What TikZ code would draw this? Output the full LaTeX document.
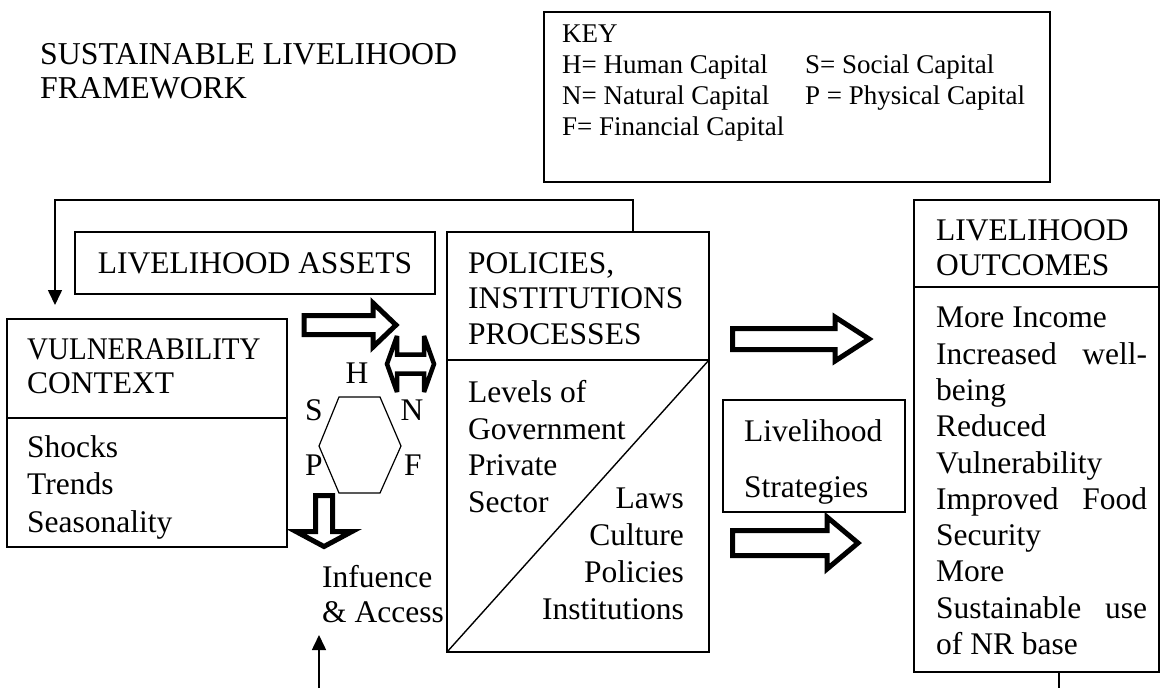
\documentclass[tikz,border=0pt]{standalone}
\usepackage{fontspec}
\usepackage{graphicx}
\setmainfont{Liberation Serif}
\usetikzlibrary{arrows.meta}
\usetikzlibrary{positioning}
\tikzset{box/.style = {draw, line width=1.6pt, inner sep=0, outer sep=0}}
\tikzset{txt/.style = {inner sep=0, anchor=north west, align=left}}
\tikzset{hollow/.style = {line width=5pt, fill=white, line join=miter}}
\tikzset{fb/.style = {line width=1.6pt, -{Triangle[length=15pt,width=14pt]}}}
% tail point, angle, length, shaft half, head half, head length
\newcommand{\fatarrow}[6]{\draw[hollow, shift={#1}, rotate=#2] (0,#4) -- ({#3-#6},#4) -- ({#3-#6},#5) -- (#3,0) -- ({#3-#6},-#5) -- ({#3-#6},-#4) -- (0,-#4) -- cycle;}

\begin{document}
\begin{tikzpicture}[x=1pt, y=-1pt, inner sep=0, font=\fontsize{31.5}{36.5}\selectfont]
    \useasboundingbox (0,0) rectangle (1161,688);

    % title and key
    \node[txt, font=\fontsize{31.8}{34}\selectfont] (title) at (40,43) {SUSTAINABLE LIVELIHOOD\\FRAMEWORK};
    \node[box, anchor=north west, minimum width=506pt, minimum height=170pt] (key) at (544,12) {};
    \node[txt, font=\fontsize{27}{31}\selectfont] (keyl) at (562,25) {KEY\\H= Human Capital\\N= Natural Capital\\F= Financial Capital};
    \node[txt, font=\fontsize{27}{31}\selectfont] (keyr) at (805,55) {S= Social Capital\\P = Physical Capital};

    % vulnerability context
    \node[box, anchor=north west, minimum width=280pt, minimum height=99pt] (vulh) at (7,319) {};
    \node[box, below=0pt of vulh, minimum width=280pt, minimum height=129pt] (vulb) {};
    \node[txt, font=\fontsize{31.5}{34}\selectfont] (vultxt) at (27,338) {\scalebox{0.92}[1]{VULNERABILITY}\\CONTEXT};
    \node[txt, font=\fontsize{31.5}{37.5}\selectfont] (shocks) at (27,435) {Shocks\\Trends\\Seasonality};

    % assets and the hexagon of capitals
    \node[box, anchor=north west, minimum width=360pt, minimum height=62pt] (assets) at (75,232) {LIVELIHOOD ASSETS};
    \draw[line width=1.2pt] (339,397) -- (380,397) -- (401,446) -- (380,493) -- (339,493) -- (319,446) -- cycle;
    \foreach \name/\x/\y in {H/357/373, S/314/410, N/412/410, P/314/465, F/413/465}
        \node (cap\name) at (\x,\y) {\name};
    \node[txt, font=\fontsize{31.5}{35}\selectfont] (infl) at (322,565) {Infuence\\\& Access};

    % policies, institutions, processes
    \node[box, anchor=north west, minimum width=262pt, minimum height=128pt] (piph) at (447,232) {};
    \node[box, below=0pt of piph, minimum width=262pt, minimum height=292pt] (pipb) {};
    \draw[line width=1.4pt] (pipb.south west) -- (pipb.north east);
    \node[txt, font=\fontsize{31.5}{35.5}\selectfont] (piptxt) at (468,252) {POLICIES,\\INSTITUTIONS\\PROCESSES};
    \node[txt, font=\fontsize{31.5}{36.8}\selectfont] (levels) at (468,380) {Levels of\\Government\\Private\\Sector};
    \node[inner sep=0, anchor=north east, align=right, font=\fontsize{31.5}{37}\selectfont] (laws) at (684,488) {Laws\\Culture\\Policies\\Institutions};

    % strategies and outcomes
    \node[box, anchor=north west, minimum width=182pt, minimum height=112pt] (strat) at (723,400) {};
    \node[txt, font=\fontsize{31.5}{56}\selectfont] (strattxt) at (744,419) {Livelihood\\Strategies};
    \node[box, anchor=north west, minimum width=245pt, minimum height=87pt] (outh) at (914,200) {};
    \node[box, below=0pt of outh, minimum width=245pt, minimum height=385pt] (outb) {};
    \node[txt, font=\fontsize{31.5}{35}\selectfont] (outtxt) at (936,219) {LIVELIHOOD\\OUTCOMES};
    \node[txt, font=\fontsize{31.5}{36.3}\selectfont] (gains) at (936,307) {More Income\\
        \makebox[211pt][s]{Increased well-}\\being\\Reduced\\Vulnerability\\
        \makebox[211pt][s]{Improved Food}\\Security\\More\\
        \makebox[211pt][s]{Sustainable use}\\of NR base};

    % block arrows
    \fatarrow{(304,325)}{0}{92}{9.5}{22}{23}
    \fatarrow{(324,495.5)}{-90}{51}{8.5}{28}{15}
    \fatarrow{(732.5,339)}{0}{136.5}{10.5}{22}{34}
    \fatarrow{(732.5,543)}{0}{125.5}{12.5}{26}{31}
    \draw[hollow, line width=4.5pt, miter limit=4] (387,364) -- (397,336) -- (397,354.5) -- (424,354.5) -- (424,336) -- (434,364)
        -- (424,392) -- (424,373.5) -- (397,373.5) -- (397,392) -- cycle;

    % feedback lines
    \draw[fb] ([xshift=-76pt]piph.north east) -- ++(0,-32) -| ([xshift=48pt,yshift=14pt]vulh.north west);
    \coordinate (bot) at (1059,688);
    \draw[line width=1.6pt] (outb.south -| bot) -- (bot);
    \coordinate (foot) at (319,688);
    \coordinate (foottip) at (319,635);
    \draw[fb] (foot) -- (foottip);
\end{tikzpicture}
\end{document}
